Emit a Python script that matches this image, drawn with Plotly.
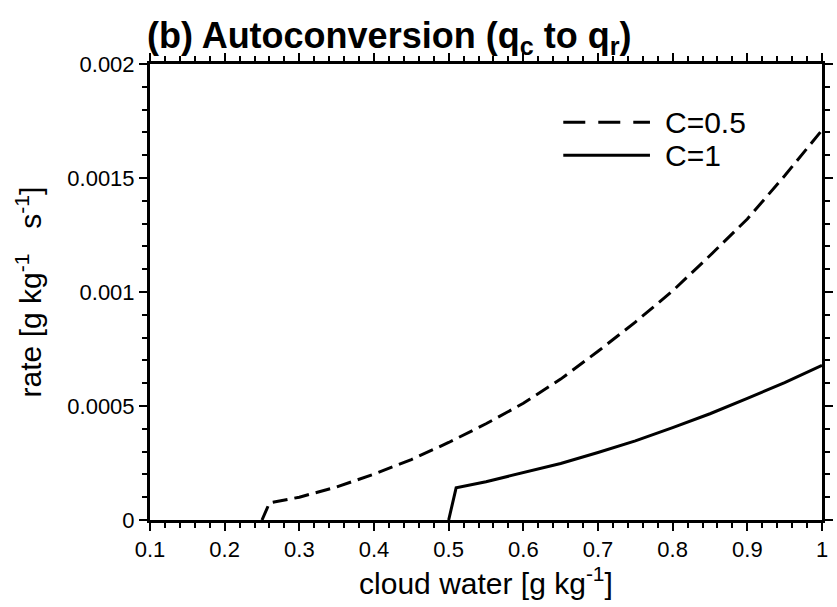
import plotly.graph_objects as go

# Cloud water (g/kg) and autoconversion rate (g/kg/s) for two threshold settings
qc_half = [0.25, 0.26, 0.3, 0.35, 0.4, 0.45, 0.5, 0.55, 0.6, 0.65, 0.7,
           0.75, 0.8, 0.85, 0.9, 0.95, 1.0]
rate_half = [0.0, 0.000075, 0.000100, 0.000145, 0.000201, 0.000265, 0.000340,
             0.000422, 0.000512, 0.000618, 0.000740, 0.000868, 0.001005, 0.001160,
             0.001320, 0.001510, 0.001710]

qc_one = [0.5, 0.51, 0.55, 0.6, 0.65, 0.7, 0.75, 0.8, 0.85, 0.9, 0.95, 1.0]
rate_one = [0.0, 0.000141, 0.000168, 0.000207, 0.000248, 0.000296, 0.000347,
            0.000405, 0.000466, 0.000533, 0.000603, 0.000678]

series_names = ["C=0.5", "C=1"]

x_tickvals = [0.1, 0.2, 0.3, 0.4, 0.5, 0.6, 0.7, 0.8, 0.9, 1.0]
x_ticktext = ["0.1", "0.2", "0.3", "0.4", "0.5", "0.6", "0.7", "0.8", "0.9", "1"]
y_tickvals = [0, 0.0005, 0.001, 0.0015, 0.002]
y_ticktext = ["0", "0.0005", "0.001", "0.0015", "0.002"]

FONT = "Liberation Sans, Arial, Helvetica, sans-serif"

fig = go.Figure()
fig.add_trace(go.Scatter(x=qc_half, y=rate_half, mode="lines", name=series_names[0],
                         line=dict(color="black", width=3, dash="15px,7px")))
fig.add_trace(go.Scatter(x=qc_one, y=rate_one, mode="lines", name=series_names[1],
                         line=dict(color="black", width=3)))

axis_common = dict(
    showline=True, linecolor="black", linewidth=3, mirror="allticks",
    ticks="outside", ticklen=8, tickwidth=2, tickcolor="black",
    showgrid=False, zeroline=False,
    tickfont=dict(family=FONT, size=22, color="black"),
)

fig.update_xaxes(
    range=[0.1, 1.0], tickmode="array", tickvals=x_tickvals, ticktext=x_ticktext,
    minor=dict(ticks="outside", ticklen=5, tickwidth=1.5, tickcolor="black", dtick=0.02,
               tick0=0.1, showgrid=False),
    title=dict(text="cloud water [g kg<sup>-1</sup>]", font=dict(family=FONT, size=30, color="black"),
               standoff=9),
    **axis_common,
)
fig.update_yaxes(
    range=[0, 0.002], tickmode="array", tickvals=y_tickvals, ticktext=y_ticktext,
    minor=dict(ticks="outside", ticklen=5, tickwidth=1.5, tickcolor="black", dtick=0.0001,
               tick0=0, showgrid=False),
    title=dict(text="rate [g kg<sup>-1</sup>   s<sup>-1</sup>]", font=dict(family=FONT, size=30, color="black"),
               standoff=17),
    **axis_common,
)

# Legend keys drawn inside the plot area
legend_rows = [(0.872, "22px,13px"), (0.800, "solid")]
for (ypos, dash), name in zip(legend_rows, series_names):
    fig.add_shape(type="line", xref="paper", yref="paper", x0=0.615, x1=0.744, y0=ypos, y1=ypos,
                  line=dict(color="black", width=3, dash=dash))
    fig.add_annotation(xref="paper", yref="paper", x=0.764, y=ypos, text=name, showarrow=False,
                       xanchor="left", yanchor="middle",
                       font=dict(family=FONT, size=30, color="black"))

fig.update_layout(
    width=837, height=607,
    margin=dict(l=150, r=4, t=64, b=87),
    paper_bgcolor="white", plot_bgcolor="white",
    showlegend=False,
    title=dict(text="<b>(b) Autoconversion (q<sub>c</sub> to q<sub>r</sub>)</b>",
               font=dict(family=FONT, size=36, color="black"),
               x=147 / 837, xanchor="left", xref="container",
               y=1 - 35 / 607, yanchor="middle", yref="container"),
)

fig.write_html("out.html")
